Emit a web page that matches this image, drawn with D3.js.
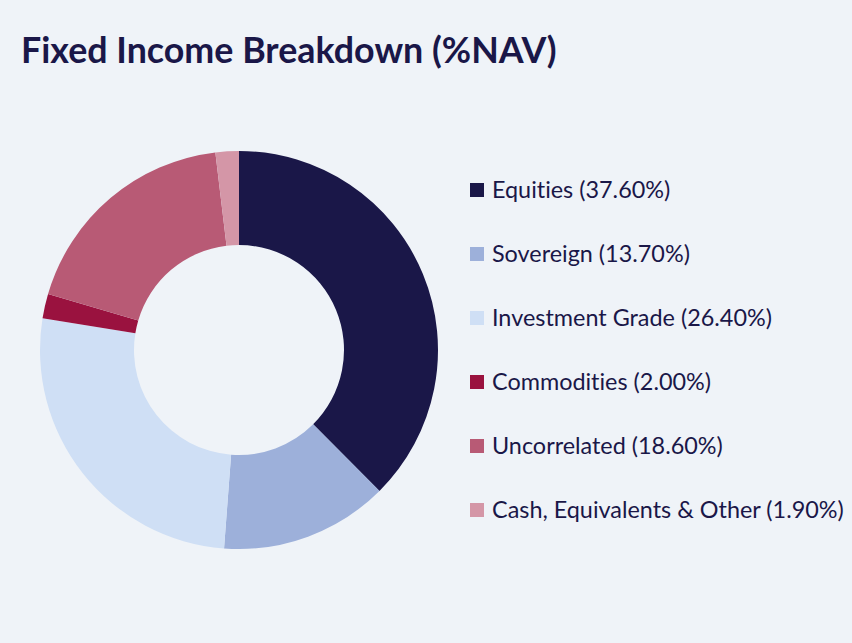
<!DOCTYPE html>
<html>
<head>
<meta charset="utf-8">
<script src="https://cdn.jsdelivr.net/npm/d3@7"></script>
<style>
	html, body { margin: 0; padding: 0; background: #eff3f8; }
	svg text { font-family: "Source Sans Pro", Lato, "Open Sans", sans-serif; fill: #1a1748; font-variant-ligatures: none; }
</style>
</head>
<body>
<svg id="chart" width="852" height="643"></svg>
<script>
//chart data
var categories = ["Equities", "Sovereign", "Investment Grade", "Commodities", "Uncorrelated", "Cash, Equivalents & Other"];
var weights = [37.6, 13.7, 26.4, 2.0, 18.6, 1.9];
var colors = ["#1a1748", "#9db0da", "#cfdff5", "#9a123f", "#b85a75", "#d496a7"];

var svg = d3.select("#chart");

//title
svg.append("text")
	.attr("x", 21)
	.attr("y", 63)
	.attr("font-size", 35.8)
	.attr("font-weight", 700)
	.text("Fixed Income Breakdown (%NAV)");

//donut
var pie = d3.pie().sort(null).value(function(d) { return d; });
var arc = d3.arc().innerRadius(105).outerRadius(199);

var donut = svg.append("g").attr("transform", "translate(239,350)");
donut.selectAll("path")
	.data(pie(weights))
	.enter().append("path")
	.attr("d", arc)
	.attr("fill", function(d, i) { return colors[i]; });

//legend
var legend = svg.append("g").attr("transform", "translate(470,190)");
var rows = legend.selectAll("g")
	.data(categories)
	.enter().append("g")
	.attr("transform", function(d, i) { return "translate(0," + (i * 64) + ")"; });

rows.append("rect")
	.attr("x", 0)
	.attr("y", -7)
	.attr("width", 14)
	.attr("height", 14)
	.attr("fill", function(d, i) { return colors[i]; });

rows.append("text")
	.attr("x", 22)
	.attr("y", 8)
	.attr("font-size", 23.4)
	.text(function(d, i) { return d + " (" + weights[i].toFixed(2) + "%)"; });
</script>
</body>
</html>
